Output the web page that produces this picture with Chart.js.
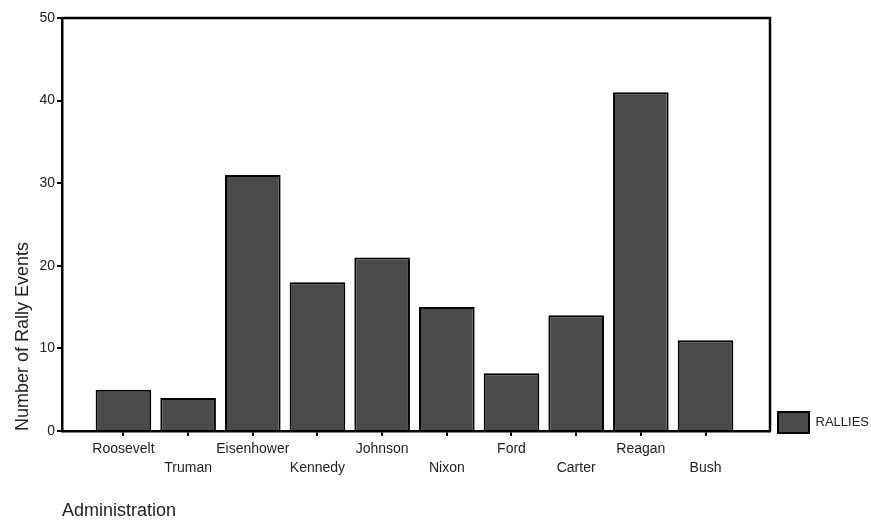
<!DOCTYPE html>
<html>
<head>
<meta charset="utf-8">
<script src="https://cdn.jsdelivr.net/npm/chart.js@4.4.0/dist/chart.umd.min.js"></script>
<style>
  html, body { margin: 0; padding: 0; background: #fff; }
  #wrap { width: 871px; height: 522px; }
</style>
</head>
<body>
<div id="wrap"><canvas id="myChart"></canvas></div>
<script>
var administrations = ["Roosevelt", "Truman", "Eisenhower", "Kennedy", "Johnson", "Nixon", "Ford", "Carter", "Reagan", "Bush"];
var rallies = [5, 4, 31, 18, 21, 15, 7, 14, 41, 11];
var yTicks = [0, 10, 20, 30, 40, 50];

Chart.defaults.font.family = "'Liberation Sans', Arial, sans-serif";

// closes the box: top and right edges of the plot area
var frame = {
  id: "frame",
  beforeDraw: function (chart) {
    // legend sits a bit lower, its box dips just under the x axis
    chart.legend.bottom = chart.chartArea.bottom + 10;
  },
  afterDraw: function (chart) {
    var a = chart.chartArea;
    var ctx = chart.ctx;
    ctx.save();
    ctx.strokeStyle = "#000";
    ctx.lineWidth = 2.5;
    ctx.beginPath();
    ctx.moveTo(a.left, a.top);
    ctx.lineTo(a.right, a.top);
    ctx.lineTo(a.right, a.bottom);
    ctx.stroke();
    ctx.restore();
  }
};

var ctx = document.getElementById("myChart").getContext("2d");
var chart = new Chart(ctx, {
  type: "bar",
  data: {
    datasets: [
      {
        label: "RALLIES",
        data: rallies.map(function (v, i) { return { x: i, y: v }; }),
        backgroundColor: "#4a4a4a",
        borderColor: "#000",
        borderWidth: 2,
        barPercentage: 0.86,
        categoryPercentage: 1
      }
    ]
  },
  options: {
    responsive: true,
    maintainAspectRatio: false,
    animation: false,
    layout: { padding: { top: 18, right: 0, left: 0, bottom: 0 } },
    plugins: {
      legend: {
        position: "right",
        align: "end",
        fullSize: false,
        maxWidth: 101,
        labels: {
          boxWidth: 31,
          boxHeight: 21,
          padding: 8,
          color: "#222",
          font: { size: 13 }
        }
      },
      tooltip: { enabled: false }
    },
    scales: {
      x: {
        type: "linear",
        min: -0.95,
        max: 9.997,
        offset: false,
        afterBuildTicks: function (s) {
          s.ticks = administrations.map(function (_, i) { return { value: i }; });
        },
        afterFit: function (s) { s.height = 91; },
        ticks: {
          autoSkip: false,
          maxRotation: 0,
          padding: 3,
          color: "#222",
          font: { size: 14, lineHeight: 1.4 },
          callback: function (v, i) {
            // alternate labels drop to a second row
            return i % 2 ? ["", administrations[i]] : administrations[i];
          }
        },
        grid: { offset: false, drawOnChartArea: false, tickLength: 5, color: "#000", lineWidth: 2 },
        border: { color: "#000", width: 2.5 },
        title: {
          display: true,
          text: "Administration",
          align: "start",
          color: "#222",
          font: { size: 18 },
          padding: { top: 0, bottom: 0 }
        }
      },
      y: {
        min: 0,
        max: 50,
        afterBuildTicks: function (s) {
          s.ticks = yTicks.map(function (v) { return { value: v }; });
        },
        afterFit: function (s) { s.width = 62; },
        ticks: { padding: 2, color: "#222", font: { size: 14 } },
        grid: { drawOnChartArea: false, tickLength: 5, color: "#000", lineWidth: 2 },
        border: { color: "#000", width: 2.5 },
        title: {
          display: true,
          text: "Number of Rally Events",
          align: "start",
          color: "#222",
          font: { size: 18 },
          padding: { top: 12, bottom: 0 }
        }
      }
    }
  },
  plugins: [frame]
});
</script>
</body>
</html>
